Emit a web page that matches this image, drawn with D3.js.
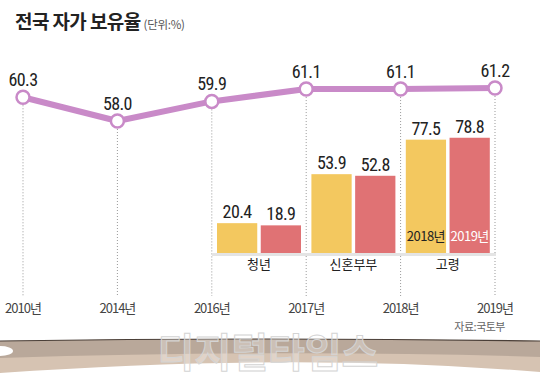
<!DOCTYPE html>
<html>
<head>
<meta charset="utf-8">
<script src="https://cdn.jsdelivr.net/npm/d3@7"></script>
<style>
  body { margin: 0; background: #fff; }
  svg { display: block; }
  .num { font-family: "Liberation Sans Narrow", "Roboto", sans-serif; font-stretch: condensed; fill: #222; }
</style>
</head>
<body>
<div id="chart"></div>
<script>
// line series: national home ownership rate
const years = ['2010년', '2014년', '2016년', '2017년', '2018년', '2019년'];
const rates = [60.3, 58.0, 59.9, 61.1, 61.1, 61.2];

// bar groups
const groups = ['청년', '신혼부부', '고령'];
const series = ['2018년', '2019년'];
const values2018 = [20.4, 53.9, 77.5];
const values2019 = [18.9, 52.8, 78.8];

const colors = { '2018년': '#f3c85f', '2019년': '#e07274' };
const lineColor = '#c98ac8';

const width = 540, height = 381;
const svg = d3.select('#chart').append('svg')
    .attr('width', width)
    .attr('height', height);

// bottom decorative band
const band = svg.append('g');
band.append('path')
    .attr('d', 'M0,341 Q270,337 540,341 L540,372 Q300,352 0,373 Z')
    .attr('fill', '#d6c3b2');
band.append('path')
    .attr('d', 'M0,341 Q270,337 540,341 L540,357 Q300,349 0,358 Z')
    .attr('fill', '#b9a89a');
band.append('path')
    .attr('d', 'M0,341 Q270,337 540,341')
    .attr('fill', 'none')
    .attr('stroke', '#4a3f38')
    .attr('stroke-width', 1.2);
band.append('ellipse')
    .attr('cx', 0).attr('cy', 351).attr('rx', 13).attr('ry', 5)
    .attr('fill', '#fff');

// watermark
svg.append('text')
    .attr('x', 268).attr('y', 367)
    .attr('text-anchor', 'middle')
    .attr('font-family', 'Noto Sans CJK KR')
    .attr('font-size', 40)
    .attr('font-weight', 700)
    .attr('fill', '#fff')
    .attr('fill-opacity', 0.3)
    .attr('stroke', '#d4d4d4')
    .attr('stroke-width', 1)
    .text('디지털타임스');

// title
const title = svg.append('text')
    .attr('x', 15).attr('y', 29)
    .attr('font-family', 'Noto Sans CJK KR');
title.append('tspan')
    .attr('font-size', 19).attr('font-weight', 700).attr('fill', '#222')
    .attr('letter-spacing', -0.6)
    .text('전국 자가 보유율');
title.append('tspan')
    .attr('dx', 3)
    .attr('font-size', 11.5).attr('fill', '#555')
    .attr('letter-spacing', -0.3)
    .text('(단위:%)');

const x = d3.scalePoint()
    .domain(years)
    .range([23, 495]);

const y = d3.scaleLinear()
    .domain([58, 61.2])
    .range([121, 88]);

// bar scale
const baseY = 253;
const yb = d3.scaleLinear()
    .domain([0, 80])
    .range([baseY, baseY - 117]);

// dotted guides
svg.append('g')
    .selectAll('line')
    .data(years)
    .join('line')
    .attr('x1', d => x(d)).attr('x2', d => x(d))
    .attr('y1', (d, i) => y(rates[i]) + 8)
    .attr('y2', 296)
    .attr('stroke', '#999')
    .attr('stroke-width', 1)
    .attr('stroke-dasharray', '1,2');

// x axis labels
svg.append('g')
    .selectAll('text')
    .data(years)
    .join('text')
    .attr('x', d => x(d))
    .attr('y', 313)
    .attr('text-anchor', 'middle')
    .attr('font-family', 'Noto Sans CJK KR')
    .attr('font-size', 13)
    .attr('letter-spacing', -1)
    .attr('fill', '#444')
    .text(d => d);

// source
svg.append('text')
    .attr('x', 505).attr('y', 331)
    .attr('text-anchor', 'end')
    .attr('font-family', 'Noto Sans CJK KR')
    .attr('font-size', 11)
    .attr('letter-spacing', -0.5)
    .attr('fill', '#666')
    .text('자료:국토부');

// bar groups centered between year guides
const groupCenters = groups.map((g, i) => (x(years[i + 2]) + x(years[i + 3])) / 2);
const x1 = d3.scaleBand()
    .domain(series)
    .range([-42, 42])
    .paddingInner(0.08);

const barData = [];
groups.forEach((g, i) => {
    barData.push({ group: g, gi: i, key: '2018년', value: values2018[i] });
    barData.push({ group: g, gi: i, key: '2019년', value: values2019[i] });
});

// baseline shadow
svg.append('rect')
    .attr('x', 212).attr('y', baseY)
    .attr('width', 284).attr('height', 3)
    .attr('fill', '#e4e4e4');

const bars = svg.append('g');
bars.selectAll('rect')
    .data(barData)
    .join('rect')
    .attr('x', d => groupCenters[d.gi] + x1(d.key))
    .attr('y', d => yb(d.value))
    .attr('width', x1.bandwidth())
    .attr('height', d => baseY - yb(d.value))
    .attr('fill', d => colors[d.key]);

bars.selectAll('text.val')
    .data(barData)
    .join('text')
    .attr('class', 'num val')
    .attr('x', d => groupCenters[d.gi] + x1(d.key) + x1.bandwidth() / 2)
    .attr('y', d => yb(d.value) - 5)
    .attr('text-anchor', 'middle')
    .attr('font-size', 18)
    .attr('letter-spacing', -0.6)
    .text(d => d.value.toFixed(1));

// legend labels inside the last group
const last = groups.length - 1;
bars.selectAll('text.leg')
    .data(series)
    .join('text')
    .attr('class', 'leg')
    .attr('x', d => groupCenters[last] + x1(d) + x1.bandwidth() / 2)
    .attr('y', baseY - 12)
    .attr('text-anchor', 'middle')
    .attr('font-family', 'Liberation Sans Narrow, Noto Sans CJK KR')
    .attr('font-size', 13)
    .attr('letter-spacing', -0.5)
    .attr('fill', (d, i) => i === 0 ? '#222' : '#fff')
    .text(d => d);

// group labels
svg.append('g')
    .selectAll('text')
    .data(groups)
    .join('text')
    .attr('x', (d, i) => groupCenters[i])
    .attr('y', 269)
    .attr('text-anchor', 'middle')
    .attr('font-family', 'Noto Sans CJK KR')
    .attr('font-size', 13)
    .attr('fill', '#222')
    .text(d => d);

// line
const line = d3.line()
    .x(d => x(d.year))
    .y(d => y(d.rate));
const pts = years.map((yr, i) => ({ year: yr, rate: rates[i] }));

svg.append('path')
    .datum(pts)
    .attr('d', line)
    .attr('fill', 'none')
    .attr('stroke', lineColor)
    .attr('stroke-width', 6)
    .attr('stroke-linejoin', 'round');

svg.append('g')
    .selectAll('circle')
    .data(pts)
    .join('circle')
    .attr('cx', d => x(d.year))
    .attr('cy', d => y(d.rate))
    .attr('r', 6.5)
    .attr('fill', '#fff')
    .attr('stroke', lineColor)
    .attr('stroke-width', 2.5);

svg.append('g')
    .selectAll('text')
    .data(pts)
    .join('text')
    .attr('class', 'num')
    .attr('x', d => x(d.year))
    .attr('y', d => y(d.rate) - 11)
    .attr('text-anchor', 'middle')
    .attr('font-size', 18)
    .attr('letter-spacing', -0.6)
    .text(d => d.rate.toFixed(1));
</script>
</body>
</html>
